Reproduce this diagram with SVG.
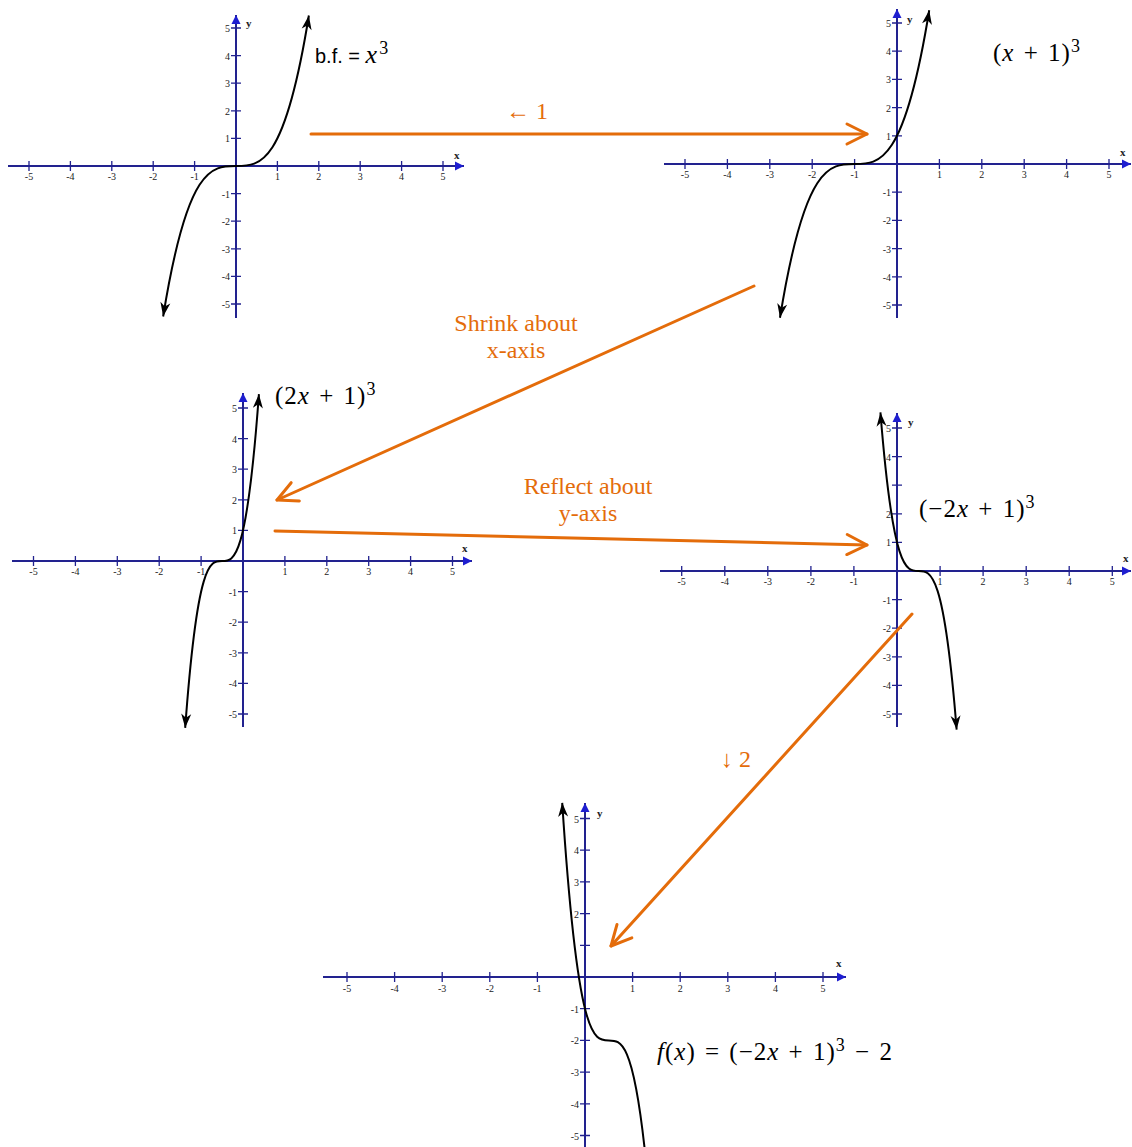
<svg xmlns="http://www.w3.org/2000/svg" width="1132" height="1147" viewBox="0 0 1132 1147">
<style>
.ax{stroke:#22228f;stroke-width:2;fill:none}
.axx{marker-end:url(#ab)}
.tk{stroke:#22228f;stroke-width:1.3;fill:none}
.tl{font-family:"Liberation Serif",serif;font-size:10px;fill:#222}
.xl{text-anchor:middle}
.yl{text-anchor:end}
.al{font-family:"Liberation Serif",serif;font-size:11px;font-weight:bold;fill:#222}
.cv{stroke:#000;stroke-width:2;fill:none}
.both{marker-start:url(#cb);marker-end:url(#cb)}
.one{marker-end:url(#cb)}
.or{stroke:#e46c0a;stroke-width:3;fill:none;stroke-linecap:round;marker-end:url(#oh)}
.ot{font-family:"Liberation Serif",serif;font-size:24px;fill:#e46c0a;text-anchor:middle}
.mt{font-family:"Liberation Serif",serif;font-size:25px;fill:#000;word-spacing:2px;letter-spacing:1px;white-space:pre}
.it{font-style:italic}
.sp{font-size:18px}
</style>
<defs>
<marker id="ab" markerUnits="userSpaceOnUse" viewBox="-10 -6 12 12" markerWidth="12" markerHeight="12" refX="0" refY="0" orient="auto"><path d="M0 0 L-9 -4.5 L-9 4.5 Z" fill="#1e1ed0"/></marker>
<marker id="cb" markerUnits="userSpaceOnUse" viewBox="-16 -8 18 16" markerWidth="18" markerHeight="16" refX="0" refY="0" orient="auto-start-reverse"><path d="M0 0 L-14 -5 L-10 0 L-14 5 Z" fill="#000"/></marker>
<marker id="oh" markerUnits="userSpaceOnUse" viewBox="-24 -13 28 26" markerWidth="28" markerHeight="26" refX="0" refY="0" orient="auto"><path d="M-20 -10 L0 0 L-20 10" fill="none" stroke="#e46c0a" stroke-width="3" stroke-linecap="round" stroke-linejoin="round"/></marker>
</defs>

<g id="graph1">
<path class="ax axx" d="M8 166 H464"/>
<path class="ax axx" d="M236 318 V15"/>
<path class="tk" d="M29 161V171M70.4 161V171M111.8 161V171M153.2 161V171M194.6 161V171M277.4 161V171M318.8 161V171M360.2 161V171M401.6 161V171M443 161V171M231 28H241M231 55.6H241M231 83.2H241M231 110.8H241M231 138.4H241M231 193.6H241M231 221.2H241M231 248.8H241M231 276.4H241M231 304H241"/>
<g class="tl xl"><text x="29" y="180">-5</text><text x="70.4" y="180">-4</text><text x="111.8" y="180">-3</text><text x="153.2" y="180">-2</text><text x="194.6" y="180">-1</text><text x="277.4" y="180">1</text><text x="318.8" y="180">2</text><text x="360.2" y="180">3</text><text x="401.6" y="180">4</text><text x="443" y="180">5</text></g>
<g class="tl yl"><text x="230" y="32">5</text><text x="230" y="59.6">4</text><text x="230" y="87.2">3</text><text x="230" y="114.8">2</text><text x="230" y="142.4">1</text><text x="230" y="197.6">-1</text><text x="230" y="225.2">-2</text><text x="230" y="252.8">-3</text><text x="230" y="280.4">-4</text><text x="230" y="308">-5</text></g>
<text class="al" x="454" y="159">x</text><text class="al" x="246" y="27">y</text>
<path class="cv both" d="M163.14 316.47 C211.71 15.53 260.29 316.47 308.86 15.53"/>
<text x="315" y="63" style="white-space:pre"><tspan font-family="Liberation Sans, sans-serif" font-size="20">b.f. = </tspan><tspan font-family="Liberation Serif, serif" font-size="26" font-style="italic">x</tspan><tspan font-family="Liberation Serif, serif" font-size="18" dx="2" dy="-9">3</tspan></text>
</g>

<g id="graph2">
<path class="ax axx" d="M664 164 H1131"/>
<path class="ax axx" d="M897 318 V9"/>
<path class="tk" d="M685 159V169M727.4 159V169M769.8 159V169M812.2 159V169M854.6 159V169M939.4 159V169M981.8 159V169M1024.2 159V169M1066.6 159V169M1109 159V169M892 23H902M892 51.2H902M892 79.4H902M892 107.6H902M892 135.8H902M892 192.2H902M892 220.4H902M892 248.6H902M892 276.8H902M892 305H902"/>
<g class="tl xl"><text x="685" y="178">-5</text><text x="727.4" y="178">-4</text><text x="769.8" y="178">-3</text><text x="812.2" y="178">-2</text><text x="854.6" y="178">-1</text><text x="939.4" y="178">1</text><text x="981.8" y="178">2</text><text x="1024.2" y="178">3</text><text x="1066.6" y="178">4</text><text x="1109" y="178">5</text></g>
<g class="tl yl"><text x="891" y="27">5</text><text x="891" y="55.2">4</text><text x="891" y="83.4">3</text><text x="891" y="111.6">2</text><text x="891" y="139.8">1</text><text x="891" y="196.2">-1</text><text x="891" y="224.4">-2</text><text x="891" y="252.6">-3</text><text x="891" y="280.8">-4</text><text x="891" y="309">-5</text></g>
<text class="al" x="1120" y="156">x</text><text class="al" x="907" y="23">y</text>
<path class="cv both" d="M779.98 317.74 C829.72 10.26 879.48 317.74 929.22 10.26"/>
<text class="mt" x="993" y="61">(<tspan class="it">x</tspan> + 1)<tspan class="sp" dy="-9">3</tspan></text>
</g>

<g id="graph3">
<path class="ax axx" d="M12 561 H472"/>
<path class="ax axx" d="M243 727 V393"/>
<path class="tk" d="M33.5 556V566M75.4 556V566M117.3 556V566M159.2 556V566M201.1 556V566M284.9 556V566M326.8 556V566M368.7 556V566M410.6 556V566M452.5 556V566M238 408H248M238 438.6H248M238 469.2H248M238 499.8H248M238 530.4H248M238 591.6H248M238 622.2H248M238 652.8H248M238 683.4H248M238 714H248"/>
<g class="tl xl"><text x="33.5" y="575">-5</text><text x="75.4" y="575">-4</text><text x="117.3" y="575">-3</text><text x="159.2" y="575">-2</text><text x="201.1" y="575">-1</text><text x="284.9" y="575">1</text><text x="326.8" y="575">2</text><text x="368.7" y="575">3</text><text x="410.6" y="575">4</text><text x="452.5" y="575">5</text></g>
<g class="tl yl"><text x="237" y="412">5</text><text x="237" y="442.6">4</text><text x="237" y="473.2">3</text><text x="237" y="503.8">2</text><text x="237" y="534.4">1</text><text x="237" y="595.6">-1</text><text x="237" y="626.2">-2</text><text x="237" y="656.8">-3</text><text x="237" y="687.4">-4</text><text x="237" y="718">-5</text></g>
<text class="al" x="462" y="552">x</text>
<path class="cv both" d="M185.18 727.83 C209.76 394.17 234.34 727.83 258.92 394.17"/>
<text class="mt" x="275" y="404">(2<tspan class="it">x</tspan> + 1)<tspan class="sp" dy="-9">3</tspan></text>
</g>

<g id="graph4">
<path class="ax axx" d="M660 571 H1131"/>
<path class="ax axx" d="M897 727 V413"/>
<path class="tk" d="M681.7 566V576M724.8 566V576M767.8 566V576M810.9 566V576M853.9 566V576M940.1 566V576M983.1 566V576M1026.2 566V576M1069.2 566V576M1112.3 566V576M892 428H902M892 456.6H902M892 485.2H902M892 513.8H902M892 542.4H902M892 599.6H902M892 628.2H902M892 656.8H902M892 685.4H902M892 714H902"/>
<g class="tl xl"><text x="681.7" y="585">-5</text><text x="724.8" y="585">-4</text><text x="767.8" y="585">-3</text><text x="810.9" y="585">-2</text><text x="853.9" y="585">-1</text><text x="940.1" y="585">1</text><text x="983.1" y="585">2</text><text x="1026.2" y="585">3</text><text x="1069.2" y="585">4</text><text x="1112.3" y="585">5</text></g>
<g class="tl yl"><text x="891" y="432">5</text><text x="891" y="460.6">4</text><text x="891" y="517.8">2</text><text x="891" y="546.4">1</text><text x="891" y="603.6">-1</text><text x="891" y="632.2">-2</text><text x="891" y="660.8">-3</text><text x="891" y="689.4">-4</text><text x="891" y="718">-5</text></g>
<text class="al" x="1123" y="562">x</text><text class="al" x="908" y="426">y</text>
<path class="cv both" d="M956.64 729.6 C931.23 412.4 905.83 729.6 880.42 412.4"/>
<text class="mt" x="919" y="517">(−2<tspan class="it">x</tspan> + 1)<tspan class="sp" dy="-9">3</tspan></text>
</g>

<g id="graph5">
<path class="ax axx" d="M323 977 H846"/>
<path class="ax axx" d="M585 1147 V803"/>
<path class="tk" d="M347 972V982M394.6 972V982M442.2 972V982M489.8 972V982M537.4 972V982M632.6 972V982M680.2 972V982M727.8 972V982M775.4 972V982M823 972V982M580 818.5H590M580 850.2H590M580 881.9H590M580 913.6H590M580 945.3H590M580 1008.7H590M580 1040.4H590M580 1072.1H590M580 1103.8H590M580 1135.5H590"/>
<g class="tl xl"><text x="347" y="992">-5</text><text x="394.6" y="992">-4</text><text x="442.2" y="992">-3</text><text x="489.8" y="992">-2</text><text x="537.4" y="992">-1</text><text x="632.6" y="992">1</text><text x="680.2" y="992">2</text><text x="727.8" y="992">3</text><text x="775.4" y="992">4</text><text x="823" y="992">5</text></g>
<g class="tl yl"><text x="579" y="822.5">5</text><text x="579" y="854.2">4</text><text x="579" y="885.9">3</text><text x="579" y="917.6">2</text><text x="579" y="1012.7">-1</text><text x="579" y="1044.4">-2</text><text x="579" y="1076.1">-3</text><text x="579" y="1107.8">-4</text><text x="579" y="1139.5">-5</text></g>
<text class="al" x="836" y="967">x</text><text class="al" x="597" y="817">y</text>
<path class="cv one" d="M644.98 1151.72 C617.39 897.07 589.81 1224.93 562.22 802.81"/>
<text class="mt" x="657" y="1060"><tspan class="it">f</tspan>(<tspan class="it">x</tspan>) = (−2<tspan class="it">x</tspan> + 1)<tspan class="sp" dy="-9">3</tspan><tspan dy="9"> − 2</tspan></text>
</g>

<g id="connectors">
<path class="or" d="M311 134 L867 134"/>
<path class="or" d="M754 286 L277 500"/>
<path class="or" d="M275 531 L867 545"/>
<path class="or" d="M912 614 L611 946"/>
<text class="ot" x="527" y="119">← 1</text>
<text class="ot" x="516" y="331">Shrink about</text>
<text class="ot" x="516" y="358">x-axis</text>
<text class="ot" x="588" y="494">Reflect about</text>
<text class="ot" x="588" y="521">y-axis</text>
<text class="ot" x="736" y="767">↓ 2</text>
</g>
</svg>
